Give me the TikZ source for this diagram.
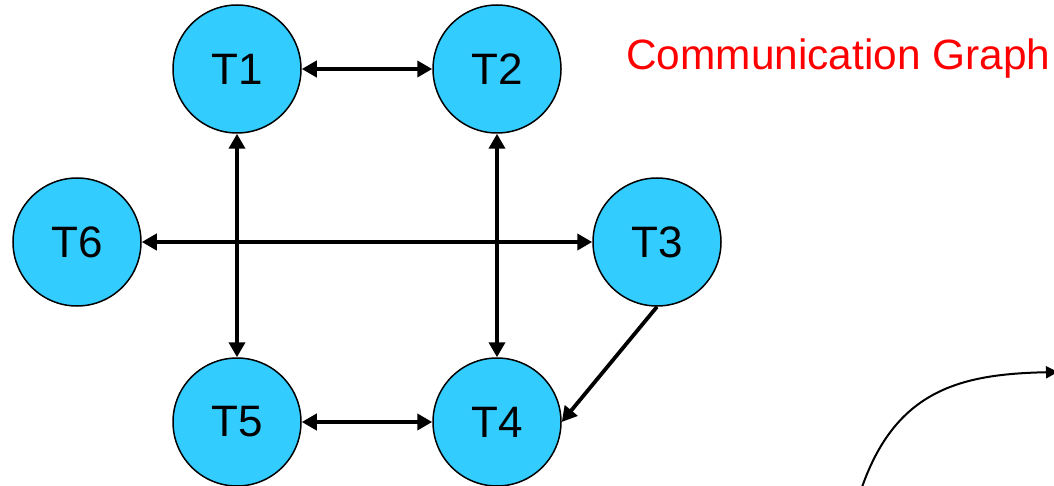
\documentclass[tikz,border=0pt]{standalone}
\usepackage{fontspec}
\setmainfont{Liberation Sans}
\usetikzlibrary{arrows.meta}
\definecolor{taskblue}{HTML}{33CCFF}
\definecolor{titlered}{HTML}{FF0000}
\begin{document}
\begin{tikzpicture}[x=1pt,y=-1pt,
  task/.style={circle,draw=black,line width=1.5pt,fill=taskblue,minimum size=128pt,inner sep=0pt,font=\fontsize{44}{44}\selectfont},
  link/.style={line width=4.3pt,{Triangle[length=15pt,width=16pt]}-{Triangle[length=15pt,width=16pt]}},
  onelink/.style={line width=3.8pt,-{Triangle[length=15pt,width=16pt]}},
  curvelink/.style={line width=2pt,-{Triangle[length=12pt,width=12pt]}}]
\useasboundingbox (0,0) rectangle (1054,486);
\node[task] (T1) at (237,69) {T1};
\node[task] (T2) at (497,69) {T2};
\node[task] (T6) at (77,242) {T6};
\node[task] (T3) at (657,242) {T3};
\node[task] (T5) at (237,422) {T5};
\node[task] (T4) at (497,422) {T4};
\draw[link] (T1) -- (T2);
\draw[link] (T1) -- (T5);
\draw[link] (T2) -- (T4);
\draw[link] (T6) -- (T3);
\draw[link] (T5) -- (T4);
\draw[onelink] (T3.south) -- (T4.east);
\node[anchor=base west,inner sep=0pt,text=titlered,font=\fontsize{42.4}{42.4}\selectfont] (title) at (626,70) {Communication Graph};
\coordinate (cs) at (861,490);
\coordinate (ce) at (1058,372);
\draw[curvelink] (cs) .. controls (895,390) and (960,374) .. (ce);
\end{tikzpicture}
\end{document}
